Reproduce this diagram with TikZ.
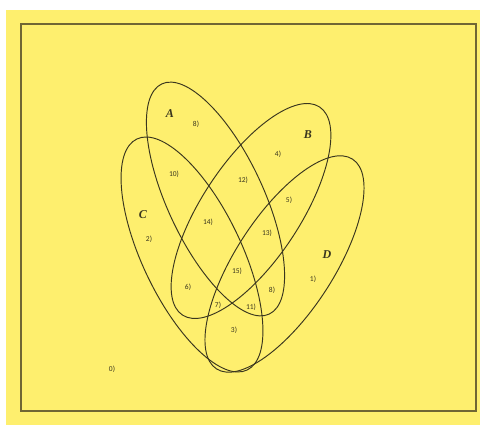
\documentclass[tikz,border=0pt]{standalone}
\usepackage{fontspec}
\setmainfont{Carlito}
\newfontfamily\setnamefont{Liberation Serif}

\definecolor{notepad}{RGB}{254,239,110}
\definecolor{pencil}{RGB}{58,54,30}
\definecolor{framegray}{RGB}{112,102,52}

\tikzset{
    setline/.style={draw=pencil, line width=0.95pt},
    region/.style={font=\fontsize{7.5}{8}\selectfont, text=pencil, inner sep=1pt},
    setname/.style={font=\setnamefont\bfseries\itshape\fontsize{12}{13}\selectfont, text=pencil, inner sep=1pt}
}

\begin{document}
\begin{tikzpicture}[x=1pt,y=1pt]
    \useasboundingbox (0,0) rectangle (480,425);

    % Paper and frame
    \fill[notepad] (6,0) rectangle (480,415);
    \draw[framegray, line width=1.8pt] (21,14) rectangle (476,401);

    % Centres of the four sets
    \coordinate (cA) at (215.5,226);
    \coordinate (cB) at (251,214);
    \coordinate (cC) at (192,170.5);
    \coordinate (cD) at (284.5,161);

    % Ellipses
    \draw[setline, rotate around={-65:(cA)}] (cA) ellipse (127 and 48);
    \draw[setline, rotate around={56.6:(cB)}] (cB) ellipse (124.6 and 49);
    \draw[setline, rotate around={-64.5:(cC)}] (cC) ellipse (128 and 49.5);
    \draw[setline, rotate around={57:(cD)}] (cD) ellipse (125 and 49);

    % Set names
    \node[setname] (nameA) at (170,311) {A};
    \node[setname] (nameB) at (308,290) {B};
    \node[setname] (nameC) at (143,210) {C};
    \node[setname] (nameD) at (327,170) {D};

    % Region numbers
    \foreach \n/\x/\y/\txt in {r8a/196/301/8), r4/278/271/4), r10/174/251/10), r12/243/245/12),
        r5/289/225/5), r14/208/203/14), r13/267/192/13), r2/149/186/2), r15/237/154/15),
        r1/313/146/1), r6/188/138/6), r8b/272/135/8), r7/218/120/7), r11/251/118/11),
        r3/234/95/3), r0/112/56/0)} {
        \node[region] (\n) at (\x,\y) {\txt};
    }
\end{tikzpicture}
\end{document}
